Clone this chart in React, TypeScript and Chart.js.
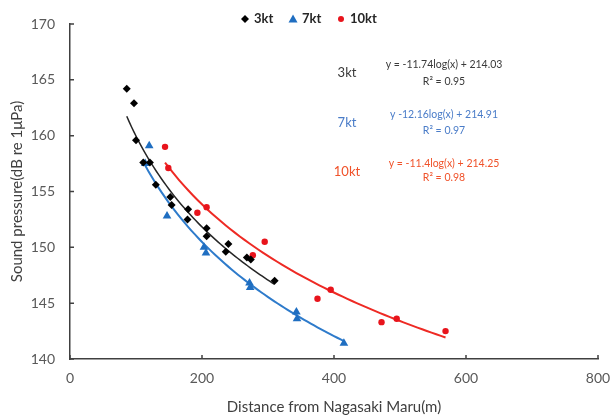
import { useEffect, useRef } from 'react';
import { Chart, registerables } from 'chart.js';
Chart.register(...registerables);

// 3kt measurements (distance m, sound pressure dB)
const x3kt = [86, 97, 100, 111, 121, 130, 152, 154, 179, 178, 207, 207, 240, 236, 268, 274, 310];
const y3kt = [164.2, 162.9, 159.6, 157.6, 157.6, 155.6, 154.5, 153.8, 153.4, 152.5, 151.7, 151.0, 150.3, 149.6, 149.1, 148.9, 147.0];
// 7kt measurements
const x7kt = [120, 114, 147, 203, 206, 272, 273, 343, 344, 415];
const y7kt = [159.1, 157.5, 152.8, 150.0, 149.5, 146.8, 146.4, 144.2, 143.6, 141.4];
// 10kt measurements
const x10kt = [144, 149, 193, 207, 277, 295, 375, 395, 472, 495, 569];
const y10kt = [159.0, 157.1, 153.1, 153.6, 149.3, 150.5, 145.4, 146.2, 143.3, 143.6, 142.5];

// Regression coefficients printed on the chart: y = a*log(x) + b
const seriesNames = ['3kt', '7kt', '10kt'];
const trendSlopes = [-11.74, -12.16, -11.4];
const trendIntercepts = [214.03, 214.91, 214.25];
const trendR2 = ['0.95', '0.97', '0.98'];
const equationLabels = ['y = -11.74log(x) + 214.03', 'y -12.16log(x) + 214.91', 'y = -11.4log(x) + 214.25'];

const xTicks = [0, 200, 400, 600, 800];
const yTicks = [140, 145, 150, 155, 160, 165, 170];

const markerColors = ['#000000', '#1F6EC1', '#E8141C'];
const lineColors = ['#262626', '#2E7BCB', '#EE2A24'];
const textColors = ['#3A3A3A', '#4A7CC8', '#F0522A'];
const FONT = 'Lato, "Open Sans", sans-serif';

function trend(xs: number[], k: number) {
  const lo = Math.min(...xs);
  const hi = Math.max(...xs);
  const pts: { x: number; y: number }[] = [];
  const n = 60;
  for (let i = 0; i <= n; i++) {
    const x = lo + ((hi - lo) * i) / n;
    pts.push({ x, y: trendSlopes[k] * Math.log(x) + trendIntercepts[k] });
  }
  return pts;
}

const zip = (xs: number[], ys: number[]) => xs.map((x, i) => ({ x, y: ys[i] }));

export default function App() {
  const ref = useRef<HTMLCanvasElement | null>(null);
  useEffect(() => {
    if (!ref.current) return;
    const xsAll = [x3kt, x7kt, x10kt];
    const ysAll = [y3kt, y7kt, y10kt];
    const styles = ['rectRot', 'triangle', 'circle'];
    const radii = [4, 5, 3.2];

    const trendSets = xsAll.map((xs, k) => ({
      label: seriesNames[k] + ' trend',
      data: trend(xs, k),
      showLine: true,
      borderColor: lineColors[k],
      borderWidth: k === 0 ? 1.5 : 2,
      pointRadius: 0,
      fill: false,
      tension: 0,
      order: 2,
    }));
    const pointSets = xsAll.map((xs, k) => ({
      label: seriesNames[k],
      data: zip(xs, ysAll[k]),
      showLine: false,
      pointStyle: styles[k],
      pointRadius: radii[k],
      backgroundColor: markerColors[k],
      borderColor: markerColors[k],
      borderWidth: 0,
      order: 1,
    }));

    const decor = {
      id: 'decor',
      afterDraw(chart: any) {
        const ctx = chart.ctx;
        const xs = chart.scales.x;
        const ys = chart.scales.y;
        const area = chart.chartArea;
        ctx.save();
        // inside ticks
        ctx.strokeStyle = '#404040';
        ctx.lineWidth = 1.5;
        ctx.beginPath();
        xTicks.forEach((v) => {
          const p = xs.getPixelForValue(v);
          ctx.moveTo(p, area.bottom);
          ctx.lineTo(p, area.bottom - 4);
        });
        yTicks.forEach((v) => {
          const p = ys.getPixelForValue(v);
          ctx.moveTo(area.left, p);
          ctx.lineTo(area.left + 4, p);
        });
        ctx.stroke();

        // legend
        const ly = 19;
        const items = [
          { x: 245, t: 254 },
          { x: 293, t: 302 },
          { x: 341, t: 350 },
        ];
        ctx.font = 'bold 13px ' + FONT;
        ctx.textBaseline = 'middle';
        ctx.textAlign = 'left';
        items.forEach((it, k) => {
          ctx.fillStyle = markerColors[k];
          ctx.beginPath();
          if (k === 0) {
            ctx.moveTo(it.x, ly - 4);
            ctx.lineTo(it.x + 4, ly);
            ctx.lineTo(it.x, ly + 4);
            ctx.lineTo(it.x - 4, ly);
          } else if (k === 1) {
            ctx.moveTo(it.x, ly - 4.5);
            ctx.lineTo(it.x + 4.5, ly + 3.5);
            ctx.lineTo(it.x - 4.5, ly + 3.5);
          } else {
            ctx.arc(it.x, ly, 3, 0, Math.PI * 2);
          }
          ctx.closePath();
          ctx.fill();
          ctx.fillStyle = '#262626';
          ctx.fillText(seriesNames[k], it.t, ly);
        });

        // annotations
        const rows = [
          { lab: 73, eq: 65, r2: 82 },
          { lab: 123, eq: 115, r2: 131 },
          { lab: 172, eq: 164, r2: 178 },
        ];
        rows.forEach((r, k) => {
          ctx.fillStyle = textColors[k];
          ctx.textAlign = 'center';
          ctx.font = '13px ' + FONT;
          ctx.fillText(seriesNames[k], 347, r.lab);
          ctx.font = '10.5px ' + FONT;
          ctx.fillText(equationLabels[k], 444, r.eq);
          ctx.fillText('R\u00B2 = ' + trendR2[k], 444, r.r2);
        });
        ctx.restore();
      },
    };

    const chart = new Chart(ref.current, {
      type: 'scatter',
      data: { datasets: [...trendSets, ...pointSets] as any },
      options: {
        animation: false,
        responsive: false,
        maintainAspectRatio: false,
        layout: { padding: { top: 24, right: 13, left: 8, bottom: 0 } },
        plugins: { legend: { display: false }, tooltip: { enabled: false } },
        scales: {
          x: {
            type: 'linear',
            min: 0,
            max: 800,
            afterFit: (s: any) => { s.height = 57; s.paddingRight = 0; s.paddingLeft = 0; },
            afterBuildTicks: (s: any) => { s.ticks = xTicks.map((v) => ({ value: v })); },
            grid: { display: false, drawTicks: false },
            border: { display: true, color: '#404040', width: 1.5 },
            ticks: { color: '#595959', font: { family: FONT, size: 14 }, padding: 11 },
            title: {
              display: true,
              text: 'Distance from Nagasaki Maru(m)',
              color: '#404040',
              font: { family: FONT, size: 15 },
              padding: { top: 3, bottom: 0 },
            },
          },
          y: {
            type: 'linear',
            min: 140,
            max: 170,
            afterFit: (s: any) => { s.width = 62; s.paddingTop = 0; s.paddingBottom = 0; },
            afterBuildTicks: (s: any) => { s.ticks = yTicks.map((v) => ({ value: v })); },
            grid: { display: false, drawTicks: false },
            border: { display: true, color: '#404040', width: 1.5 },
            ticks: { color: '#595959', font: { family: FONT, size: 14 }, padding: 15 },
            title: {
              display: true,
              text: 'Sound pressure(dB re 1\u03BCPa)',
              color: '#404040',
              font: { family: FONT, size: 15 },
              padding: { top: 0, bottom: 4 },
            },
          },
        },
      },
      plugins: [decor],
    });
    return () => chart.destroy();
  }, []);

  return (
    <div style={{ position: 'fixed', left: 0, top: 0, width: 611, height: 416, background: '#fff' }}>
      <canvas ref={ref} width={611} height={416} style={{ width: 611, height: 416, display: 'block' }} />
    </div>
  );
}
